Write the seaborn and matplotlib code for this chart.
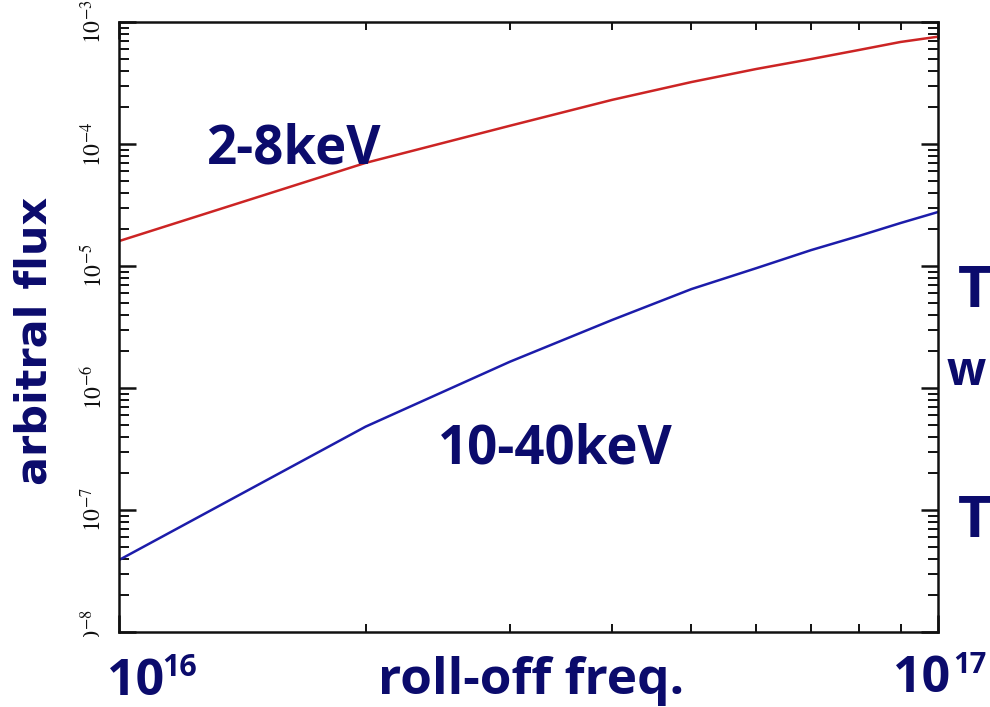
import numpy as np
import pandas as pd
import matplotlib
matplotlib.use("Agg")
import matplotlib.pyplot as plt
import seaborn as sns
from matplotlib.ticker import LogLocator, NullFormatter, FixedLocator, FixedFormatter
from matplotlib.patches import Rectangle

# ---------------- data ----------------
freq = [1e16, 2e16, 3e16, 4e16, 5e16, 6e16, 7e16, 8e16, 9e16, 1e17]
flux_2_8 = [1.60e-5, 7.0e-5, 1.41e-4, 2.30e-4, 3.22e-4, 4.12e-4, 4.97e-4, 5.89e-4, 6.86e-4, 7.58e-4]
flux_10_40 = [3.89e-8, 4.82e-7, 1.64e-6, 3.61e-6, 6.47e-6, 9.6e-6, 1.35e-5, 1.76e-5, 2.25e-5, 2.77e-5]
bands = ["2-8keV", "10-40keV"]
y_tick_values = [1e-8, 1e-7, 1e-6, 1e-5, 1e-4, 1e-3]
y_tick_labels = [r"$10^{-8}$", r"$10^{-7}$", r"$10^{-6}$", r"$10^{-5}$", r"$10^{-4}$", r"$10^{-3}$"]
x_label = "roll-off freq."
y_label = "arbitral flux"

df = pd.DataFrame({
    "freq": freq * 2,
    "flux": flux_2_8 + flux_10_40,
    "band": [bands[0]] * len(freq) + [bands[1]] * len(freq),
})

# ---------------- style ----------------
sns.set_theme(style="ticks")
plt.rcParams["mathtext.fontset"] = "stix"
navy = "#0b0b6c"
W, H = 990, 707

fig = plt.figure(figsize=(9.9, 7.07), dpi=100)
fig.patch.set_facecolor("white")
ax = fig.add_axes([119 / W, 1 - 632 / H, (938 - 119) / W, (632 - 22) / H])

sns.lineplot(data=df, x="freq", y="flux", hue="band",
             palette={bands[0]: "#cc2424", bands[1]: "#1c1caa"},
             linewidth=1.8, legend=False, ax=ax, estimator=None)

ax.set_xscale("log")
ax.set_yscale("log")
ax.set_xlim(freq[0], freq[-1])
ax.set_ylim(y_tick_values[0], y_tick_values[-1])
ax.set_xlabel("")
ax.set_ylabel("")

ax.yaxis.set_major_locator(FixedLocator(y_tick_values))
ax.yaxis.set_major_formatter(FixedFormatter(y_tick_labels))
ax.yaxis.set_minor_locator(LogLocator(base=10, subs=np.arange(2, 10)))
ax.yaxis.set_minor_formatter(NullFormatter())
ax.xaxis.set_minor_locator(LogLocator(base=10, subs=np.arange(2, 10)))
ax.xaxis.set_minor_formatter(NullFormatter())

for s in ax.spines.values():
    s.set_visible(True)
    s.set_linewidth(1.8)
    s.set_color("#111111")

ax.tick_params(which="major", direction="in", length=12, width=1.8,
               top=True, right=True, colors="#111111", labelsize=17, pad=9,
               labelbottom=False)
ax.tick_params(which="minor", direction="in", length=7, width=1.4,
               top=True, right=True, colors="#111111")
ax.tick_params(axis="x", which="minor", length=6)
for lab in ax.get_yticklabels():
    lab.set_rotation(90)
    lab.set_va("center")
    lab.set_color("#111111")

# white mask covering lower part of the bottom y-label (as in the reference)
fig.patches.append(Rectangle((55 / W, 0), 62 / W, 1 - 637 / H,
                             transform=fig.transFigure, facecolor="white",
                             edgecolor="none", zorder=5))

def ftext(x, y, s, size, **kw):
    kw.setdefault("family", ["Open Sans", "DejaVu Sans"])
    fig.text(x / W, 1 - y / H, s, fontsize=size, color=navy,
             fontweight="bold", zorder=10, **kw)

# band labels
ftext(207, 163, bands[0], 38, ha="left", va="baseline")
ftext(438, 463, bands[1], 38, ha="left", va="baseline")

# axis texts
ftext(378, 694, x_label, 37, ha="left", va="baseline")
ftext(47, 341, y_label, 31, ha="center", va="baseline", rotation=90,
      rotation_mode="anchor", family=["DejaVu Sans"])

# big x-range labels
ftext(107, 695, "10", 36, ha="left", va="baseline")
ftext(162, 676, "16", 22, ha="left", va="baseline")
ftext(893, 692, "10", 36, ha="left", va="baseline")
ftext(953, 673, "17", 21, ha="left", va="baseline")

# clipped slide text on the right edge
ftext(958, 307, "T", 42, ha="left", va="baseline")
ftext(947, 385, "w", 33, ha="left", va="baseline")
ftext(958, 537, "T", 42, ha="left", va="baseline")

fig.savefig("out.png", dpi=100, facecolor="white")
